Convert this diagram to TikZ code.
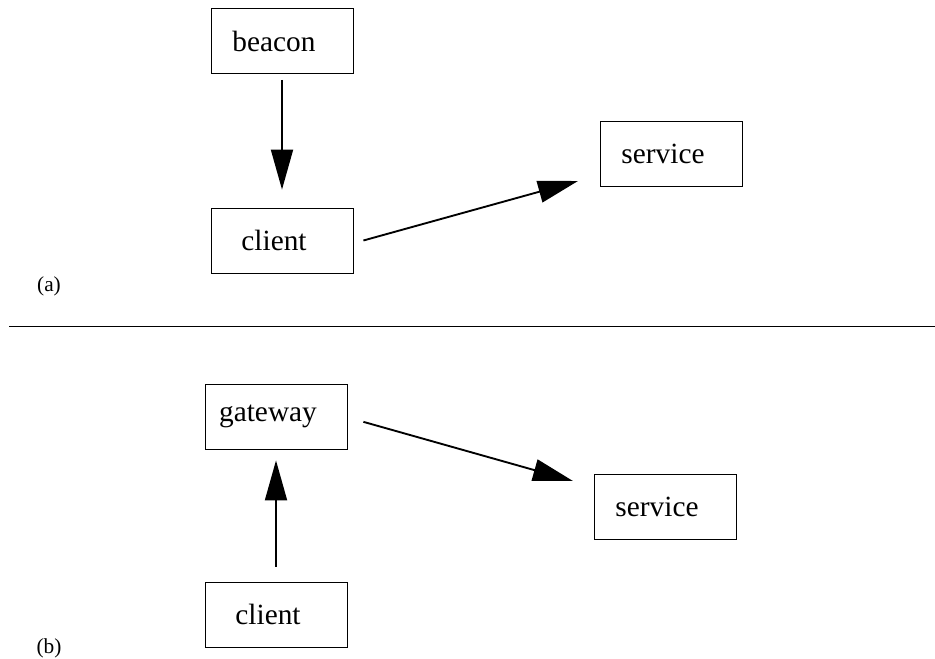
\documentclass[tikz,border=0pt]{standalone}
\usepackage{fontspec}
\setmainfont{Liberation Serif}
\usetikzlibrary{arrows.meta, positioning}

\begin{document}
\begin{tikzpicture}[x=0.75pt, y=-0.75pt,
    box/.style={draw, line width=0.6pt, minimum width=106.5pt, minimum height=48.75pt,
        font=\fontsize{22}{26}\selectfont, execute at begin node={\hspace*{-12pt}}},
    flow/.style={line width=1.4pt, -{Triangle[length=30pt, width=16.5pt]}},
    tag/.style={font=\fontsize{16}{18}\selectfont}]

    \useasboundingbox (0,0) rectangle (935,658);

    %% Part (a)
    \node (beacon) at (282,41) [box] {beacon};
    \node (clienta) at (282,240.5) [box] {client};
    \node (servicea) at (671,154) [box] {service};
    \node (laba) at (49,286) [tag] {(a)};
    \coordinate (atip) at (578,181);
    \draw[flow] ([yshift=-4.5pt]beacon.south) -- ([yshift=13.5pt]clienta.north);
    \draw[flow] ([xshift=7.5pt]clienta.east) -- (atip);

    % Separator
    \draw[line width=1.1pt] (9,326.5) -- (935,326.5);

    %% Part (b)
    \node (gateway) at (276,416.5) [box] {gateway};
    \node (clientb) at (276,614.5) [box] {client};
    \node (serviceb) at (665,506.5) [box] {service};
    \node (labb) at (49,648) [tag] {(b)};
    \coordinate (btip) at (573,481);
    \draw[flow] ([yshift=11.25pt]clientb.north) -- ([yshift=-8.25pt]gateway.south);
    \draw[flow] ([xshift=12pt, yshift=-4pt]gateway.east) -- (btip);

\end{tikzpicture}
\end{document}
